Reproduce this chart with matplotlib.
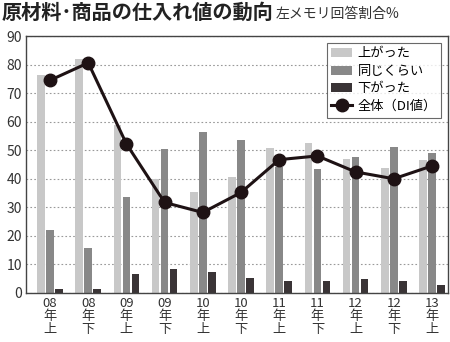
import numpy as np
import matplotlib.pyplot as plt

plt.rcParams['font.family'] = ['Noto Sans CJK JP', 'DejaVu Sans']

periods = ['08\n年\n上', '08\n年\n下', '09\n年\n上', '09\n年\n下', '10\n年\n上', '10\n年\n下',
           '11\n年\n上', '11\n年\n下', '12\n年\n上', '12\n年\n下', '13\n年\n上']
up = [76.3, 82.1, 58.8, 39.9, 35.5, 40.7, 50.9, 52.4, 47.0, 43.9, 46.6]
same = [22.2, 15.8, 33.6, 50.5, 56.3, 53.7, 44.2, 43.3, 47.6, 51.0, 49.2]
down = [1.5, 1.5, 6.6, 8.3, 7.2, 5.2, 4.2, 4.2, 4.9, 4.1, 2.7]
di = [74.5, 80.6, 52.2, 31.7, 28.2, 35.2, 46.7, 48.0, 42.4, 40.0, 44.5]

fig = plt.figure(figsize=(4.5, 3.42), dpi=100)
ax = fig.add_axes([26 / 450, 1 - 293 / 342, 422 / 450, 257 / 342])

x = np.arange(len(periods))
w = 0.2
step = 0.235
b1 = ax.bar(x - step, up, w, color='#c8c8c8', zorder=2)
b2 = ax.bar(x, same, w, color='#888888', zorder=2)
b3 = ax.bar(x + step, down, w, color='#3a3436', zorder=2)
l1, = ax.plot(x, di, color='#1e1214', lw=2.2, marker='o', ms=9, zorder=3)

ax.set_xlim(-0.63, 10.42)
ax.set_ylim(0, 90)
ax.set_yticks(range(0, 91, 10))
ax.set_xticks(x)
ax.set_xticklabels(periods, fontsize=9.5, linespacing=1.0, color='#333333')
ax.tick_params(axis='y', labelsize=10, colors='#333333', length=0, pad=3)
ax.tick_params(axis='x', length=0, pad=3)
ax.yaxis.grid(True, linestyle=(0, (1.5, 2)), color='#999999', lw=0.8, zorder=0)
for s in ax.spines.values():
    s.set_color('#444444')
    s.set_linewidth(1.0)

leg = ax.legend([b1, b2, b3, l1], ['上がった', '同じくらい', '下がった', '全体（DI値）'],
                loc='upper right', fontsize=9.5, frameon=True, fancybox=False,
                edgecolor='#444444', borderpad=0.35, labelspacing=0.35,
                handlelength=1.6, handletextpad=0.4, borderaxespad=0.5)
leg.get_frame().set_linewidth(0.8)

fig.text(0.003, 0.963, '原材料･商品の仕入れ値の動向', fontsize=14.5, fontweight='bold',
         va='center', ha='left', color='#222222')
fig.text(0.612, 0.958, '左メモリ回答割合%', fontsize=10, va='center', ha='left', color='#333333')

fig.savefig('out.png', dpi=100)
